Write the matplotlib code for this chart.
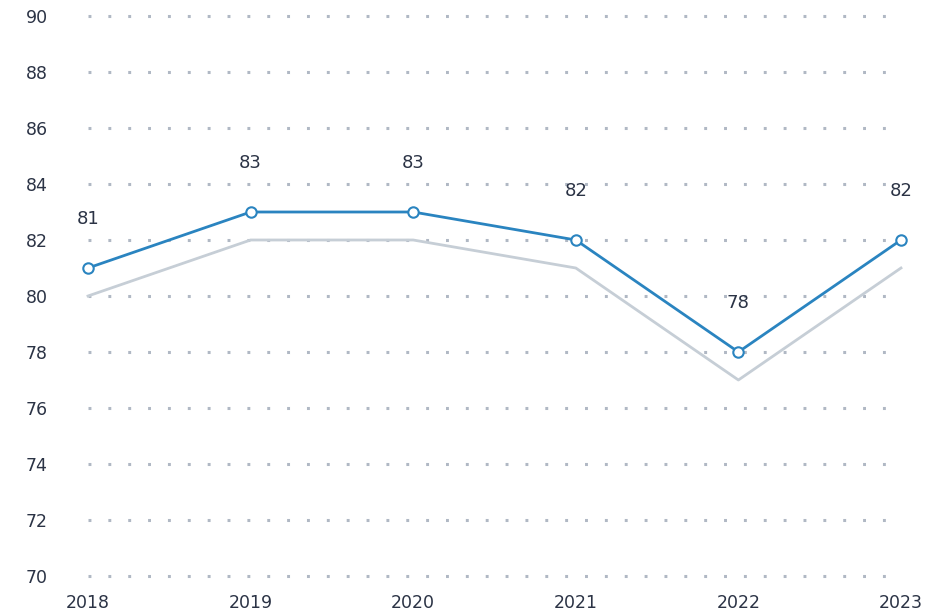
import numpy as np
import matplotlib
matplotlib.use("Agg")
import matplotlib.pyplot as plt

years = [2018, 2019, 2020, 2021, 2022, 2023]
main_values = [81, 83, 83, 82, 78, 82]
benchmark_values = [80, 82, 82, 81, 77, 81]
y_ticks = list(range(70, 91, 2))

plt.rcParams["font.family"] = ["DejaVu Sans"]
plt.rcParams["lines.scale_dashes"] = False

text_color = "#2b3345"
blue = "#2a84c0"
gray = "#c6ced6"

fig = plt.figure(figsize=(9.49, 6.16), dpi=100)
ax = fig.add_axes([88 / 949, 1 - 576 / 616, (901 - 88) / 949, (576 - 16) / 616])

for t in y_ticks:
    ax.plot([years[0], years[-1] - 0.05], [t, t], color="#b0b8c4", lw=2.2,
            linestyle=(0, (2.1, 12.2)), zorder=1, dash_capstyle="butt",
            clip_on=False)

ax.plot(years, benchmark_values, color=gray, lw=2.0, zorder=2, clip_on=False)
ax.plot(years, main_values, color=blue, lw=2.0, zorder=3,
        marker="o", markersize=7.5, markerfacecolor="white",
        markeredgecolor=blue, markeredgewidth=1.5, clip_on=False)

for x, v in zip(years, main_values):
    ax.annotate(str(v), (x, v), xytext=(0, 35), textcoords="offset points",
                ha="center", va="center", fontsize=13, color=text_color)

ax.set_xlim(years[0], years[-1])
ax.set_ylim(70, 90)
ax.set_yticks(y_ticks)
ax.set_xticks(years)
ax.tick_params(length=0, labelsize=12.5, labelcolor=text_color)
ax.tick_params(axis="y", pad=29)
ax.tick_params(axis="x", pad=13)
for s in ax.spines.values():
    s.set_visible(False)

fig.savefig("out.png", dpi=100)
